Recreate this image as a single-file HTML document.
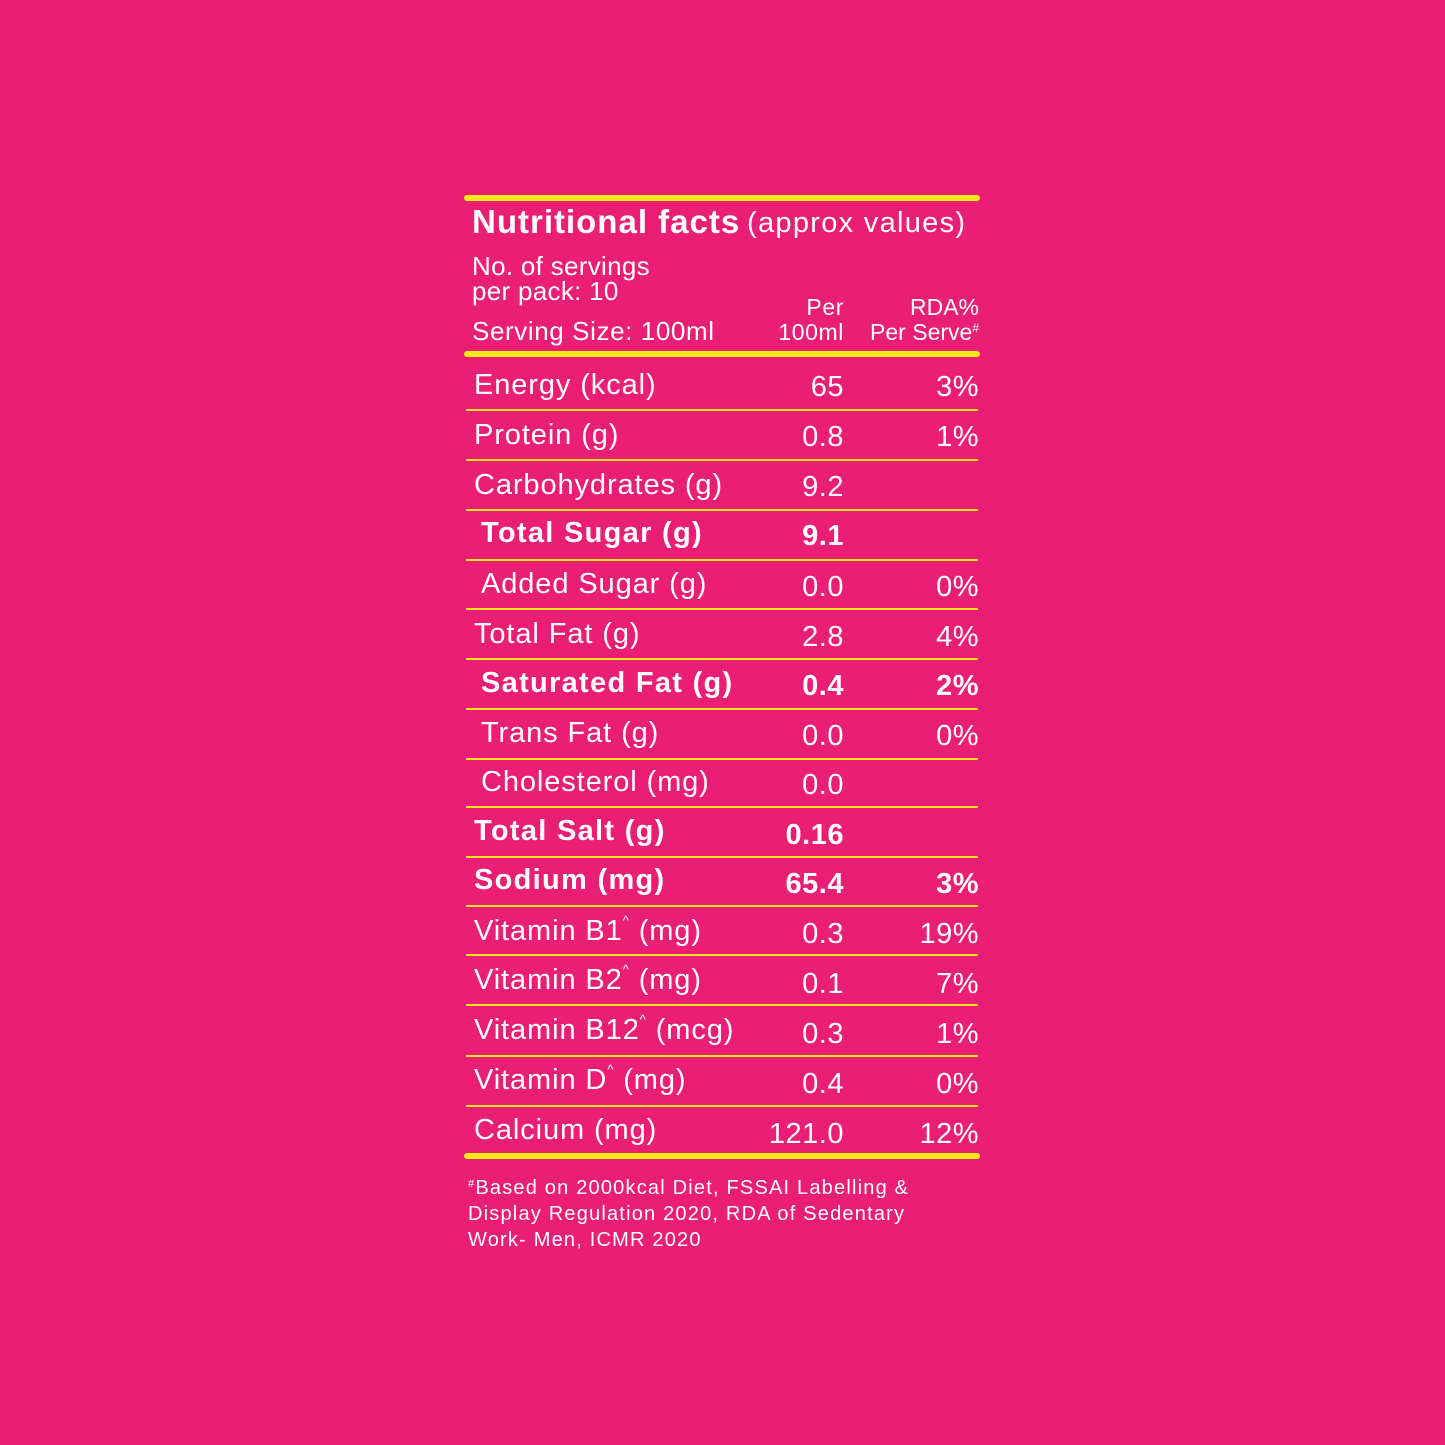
<!DOCTYPE html>
<html><head><style>
body{margin:0;width:1445px;height:1445px;background:#E91E74;position:relative;overflow:hidden;font-family:"Liberation Sans",sans-serif;color:#fff}
.a{position:absolute;white-space:nowrap}
.thick{position:absolute;left:464px;width:516px;height:6px;background:#F7EC1A;border-radius:3px}
.thin{position:absolute;left:466px;width:512px;height:2px;background:#F2E21A}
.r{position:absolute;height:50px;line-height:50px;font-size:29px;letter-spacing:0.9px;white-space:nowrap}
.l{left:474px}.i{left:481px}
.v{right:601px;text-align:right;letter-spacing:0.5px}
.p{right:466px;text-align:right;letter-spacing:0.5px}
b{font-weight:bold;letter-spacing:1.3px}
.v b,.p b{letter-spacing:0.5px}
sup{font-size:13px;vertical-align:top;line-height:30px}
</style></head><body>
<div class="thick" style="top:195px"></div>
<div class="a" style="left:472px;top:203px;font-size:33px;font-weight:bold;letter-spacing:1px">Nutritional facts</div>
<div class="a" style="left:747px;top:207px;font-size:29px;letter-spacing:1.3px">(approx values)</div>
<div class="a" style="left:472px;top:254px;font-size:26px;line-height:25px;letter-spacing:0.3px">No. of servings<br>per pack: 10</div>
<div class="a" style="left:472px;top:316px;font-size:26px;letter-spacing:0.6px">Serving Size: 100ml</div>
<div class="a" style="right:601px;top:295px;font-size:23px;line-height:25px;text-align:right;letter-spacing:0.6px">Per<br>100ml</div>
<div class="a" style="right:466px;top:295px;font-size:23px;line-height:25px;text-align:right">RDA%<br>Per Serve<sup style="font-size:12px;line-height:16px">#</sup></div>
<div class="thick" style="top:351px"></div>

<div class="r l" style="top:360px">Energy (kcal)</div><div class="r v" style="top:362px">65</div><div class="r p" style="top:362px">3%</div>
<div class="thin" style="top:409px"></div>
<div class="r l" style="top:410px">Protein (g)</div><div class="r v" style="top:412px">0.8</div><div class="r p" style="top:412px">1%</div>
<div class="thin" style="top:459px"></div>
<div class="r l" style="top:460px">Carbohydrates (g)</div><div class="r v" style="top:462px">9.2</div>
<div class="thin" style="top:509px"></div>
<div class="r i" style="top:508px"><b>Total Sugar (g)</b></div><div class="r v" style="top:511px"><b>9.1</b></div>
<div class="thin" style="top:559px"></div>
<div class="r i" style="top:559px">Added Sugar (g)</div><div class="r v" style="top:562px">0.0</div><div class="r p" style="top:562px">0%</div>
<div class="thin" style="top:608px"></div>
<div class="r l" style="top:609px">Total Fat (g)</div><div class="r v" style="top:612px">2.8</div><div class="r p" style="top:612px">4%</div>
<div class="thin" style="top:658px"></div>
<div class="r i" style="top:658px"><b>Saturated Fat (g)</b></div><div class="r v" style="top:661px"><b>0.4</b></div><div class="r p" style="top:661px"><b>2%</b></div>
<div class="thin" style="top:708px"></div>
<div class="r i" style="top:708px">Trans Fat (g)</div><div class="r v" style="top:711px">0.0</div><div class="r p" style="top:711px">0%</div>
<div class="thin" style="top:758px"></div>
<div class="r i" style="top:757px">Cholesterol (mg)</div><div class="r v" style="top:760px">0.0</div>
<div class="thin" style="top:806px"></div>
<div class="r l" style="top:806px"><b>Total Salt (g)</b></div><div class="r v" style="top:810px"><b>0.16</b></div>
<div class="thin" style="top:856px"></div>
<div class="r l" style="top:855px"><b>Sodium (mg)</b></div><div class="r v" style="top:859px"><b>65.4</b></div><div class="r p" style="top:859px"><b>3%</b></div>
<div class="thin" style="top:905px"></div>
<div class="r l" style="top:906px">Vitamin B1<sup>^</sup> (mg)</div><div class="r v" style="top:909px">0.3</div><div class="r p" style="top:909px">19%</div>
<div class="thin" style="top:954px"></div>
<div class="r l" style="top:955px">Vitamin B2<sup>^</sup> (mg)</div><div class="r v" style="top:959px">0.1</div><div class="r p" style="top:959px">7%</div>
<div class="thin" style="top:1004px"></div>
<div class="r l" style="top:1005px">Vitamin B12<sup>^</sup> (mcg)</div><div class="r v" style="top:1009px">0.3</div><div class="r p" style="top:1009px">1%</div>
<div class="thin" style="top:1055px"></div>
<div class="r l" style="top:1055px">Vitamin D<sup>^</sup> (mg)</div><div class="r v" style="top:1059px">0.4</div><div class="r p" style="top:1059px">0%</div>
<div class="thin" style="top:1105px"></div>
<div class="r l" style="top:1105px">Calcium (mg)</div><div class="r v" style="top:1109px">121.0</div><div class="r p" style="top:1109px">12%</div>
<div class="thick" style="top:1153px"></div>
<div class="a" style="left:468px;top:1175px;font-size:20px;line-height:26px;letter-spacing:1.2px"><sup style="font-size:11px;line-height:18px">#</sup>Based on 2000kcal Diet, FSSAI Labelling &amp;<br>Display Regulation 2020, RDA of Sedentary<br>Work- Men, ICMR 2020</div>
</body></html>
